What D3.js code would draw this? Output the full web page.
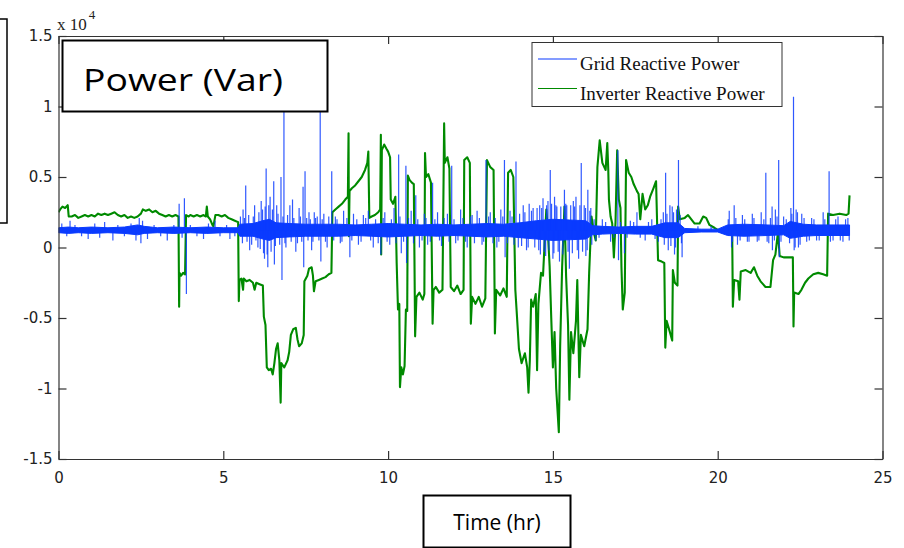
<!DOCTYPE html>
<html>
<head>
<meta charset="utf-8">
<script src="https://cdn.jsdelivr.net/npm/d3@7"></script>
<style>
  body { margin: 0; background: #fff; }
  svg { display: block; }
</style>
</head>
<body>
<svg id="chart" width="904" height="548"></svg>
<script>
// Axis ticks (values in units of 10^4 var)
const xTicks = [0, 5, 10, 15, 20, 25];
const yTicks = [-1.5, -1, -0.5, 0, 0.5, 1, 1.5];
const yTickLabels = ["-1.5", "-1", "-0.5", "0", "0.5", "1", "1.5"];
const seriesNames = ["Grid Reactive Power", "Inverter Reactive Power"];

// Grid reactive power: resting level, noise envelope [hr, low, high], and spikes [hr, value]
const gridBase = 0.12;
const gridBand = [
  [0,0.105,0.14],[0.3,0.10,0.145],[0.6,0.105,0.14],[1.0,0.10,0.145],[1.5,0.105,0.14],[2.0,0.10,0.145],
  [2.4,0.09,0.16],[2.6,0.10,0.15],[3.0,0.105,0.14],[3.5,0.10,0.145],[4.0,0.105,0.14],[4.5,0.10,0.145],
  [5.0,0.105,0.14],[5.45,0.105,0.14],[5.5,0.08,0.165],[5.9,0.08,0.17],[6.2,0.06,0.19],[6.4,0.05,0.20],
  [6.6,0.07,0.175],[7.0,0.075,0.17],[7.5,0.08,0.165],[8.0,0.08,0.165],[8.5,0.08,0.165],[9.0,0.085,0.16],
  [9.5,0.08,0.165],[10.0,0.075,0.17],[10.5,0.08,0.165],[11.0,0.085,0.16],[11.5,0.08,0.165],[12.0,0.085,0.16],
  [12.5,0.08,0.165],[13.0,0.075,0.17],[13.5,0.08,0.165],[14.0,0.07,0.175],[14.5,0.06,0.19],[15.0,0.05,0.20],
  [15.5,0.055,0.195],[16.0,0.06,0.19],[16.2,0.09,0.155],[16.5,0.095,0.15],[17.0,0.10,0.145],[17.5,0.095,0.15],
  [18.0,0.095,0.15],[18.4,0.07,0.175],[18.8,0.07,0.175],[19.0,0.105,0.135],[19.5,0.11,0.13],[20.0,0.11,0.13],
  [20.3,0.085,0.16],[20.8,0.08,0.165],[21.5,0.085,0.16],[22.0,0.09,0.155],[22.2,0.065,0.185],[22.6,0.08,0.165],
  [23.0,0.085,0.16],[23.5,0.085,0.16],[24.0,0.085,0.16]
];
const gridSpikes = [
  [0.1,0.17],[0.25,0.08],[0.35,0.19],[0.5,0.16],[0.7,0.08],[0.9,0.06],[1.1,0.17],[1.25,0.07],[1.4,0.18],
  [1.65,0.05],[1.8,0.16],[2.0,0.08],[2.2,0.17],[2.35,0.05],[2.45,0.21],[2.5,0.03],[2.55,0.19],[2.7,0.06],
  [2.9,0.16],[3.1,0.08],[3.3,0.05],[3.5,0.16],[3.66,0.31],[3.75,0.07],[3.82,0.35],[3.88,-0.33],[4.0,0.16],
  [4.2,0.08],[4.4,0.06],[4.55,0.17],[4.75,0.19],[4.9,0.08],[5.1,0.16],[5.2,0.06],[5.35,0.08],
  [5.52,0.22],[5.58,0.03],[5.6,0.27],[5.64,0.21],[5.68,0.44],[5.72,0.04],[5.77,0.23],[5.8,-0.02],[5.86,0.02],
  [5.91,0.22],[5.95,0.30],[5.99,0.05],[6.05,0.00],[6.08,0.25],[6.12,-0.01],[6.15,0.33],[6.19,0.27],[6.22,-0.04],
  [6.25,-0.08],[6.27,0.29],[6.3,0.56],[6.33,-0.05],[6.35,-0.14],[6.38,0.30],[6.42,0.36],[6.45,-0.03],[6.49,0.27],
  [6.53,0.47],[6.55,-0.12],[6.58,0.01],[6.62,0.30],[6.66,0.24],[6.71,0.02],[6.75,0.50],[6.78,-0.23],[6.81,0.22],
  [6.84,1.00],[6.87,0.03],[6.9,0.00],[6.95,0.23],[7.02,0.30],[7.06,0.04],[7.1,0.34],[7.14,0.21],[7.2,-0.03],
  [7.25,0.03],[7.3,0.28],[7.34,0.22],[7.38,0.04],[7.42,0.43],[7.44,-0.14],[7.48,0.54],[7.53,0.21],[7.57,0.05],
  [7.6,0.25],[7.64,0.20],[7.68,-0.02],[7.72,0.04],[7.76,0.25],[7.8,0.21],[7.85,0.22],[7.9,0.05],[7.94,0.98],
  [7.96,-0.10],[8.0,0.20],[8.05,0.24],[8.1,0.04],[8.15,0.00],[8.2,0.22],[8.29,0.54],[8.35,0.05],[8.4,0.22],
  [8.45,0.20],[8.55,0.03],[8.6,0.04],[8.65,0.26],[8.75,0.21],[8.84,-0.07],[8.9,0.05],[8.95,0.24],[9.05,0.20],
  [9.1,0.02],[9.18,0.04],[9.25,0.23],[9.32,0.21],[9.4,0.26],[9.47,0.05],[9.55,0.00],[9.62,0.20],[9.7,0.03],
  [9.78,-0.05],[9.85,0.21],[9.9,0.25],[9.97,0.04],[10.05,0.02],[10.1,0.20],[10.18,0.28],[10.24,0.03],
  [10.32,0.66],[10.36,0.22],[10.4,-0.04],[10.47,0.04],[10.54,0.58],[10.56,-0.11],[10.62,0.21],[10.7,0.26],
  [10.77,0.03],[10.84,0.37],[10.9,0.20],[10.95,0.00],[11.03,0.05],[11.1,0.24],[11.15,0.21],[11.2,0.02],
  [11.28,0.04],[11.35,0.46],[11.42,0.20],[11.5,0.25],[11.56,0.05],[11.62,0.01],[11.7,0.21],[11.8,0.24],
  [11.85,0.04],[11.93,0.58],[12.0,0.20],[12.05,0.03],[12.12,0.05],[12.2,0.27],[12.27,0.21],[12.35,0.04],
  [12.4,0.00],[12.5,0.22],[12.55,0.23],[12.62,0.03],[12.7,0.26],[12.77,0.21],[12.85,0.02],[12.9,0.04],
  [12.97,0.62],[13.05,0.22],[13.1,0.25],[13.18,0.03],[13.25,0.21],[13.3,0.00],[13.36,0.04],[13.42,0.27],
  [13.48,0.22],[13.53,0.62],[13.55,-0.07],[13.62,0.03],[13.7,0.26],[13.76,0.22],[13.82,0.02],[13.88,0.61],
  [13.95,0.00],[13.99,0.24],[14.05,0.01],[14.1,0.30],[14.15,0.25],[14.2,-0.02],[14.25,0.00],[14.28,0.31],
  [14.35,0.26],[14.4,0.28],[14.45,0.00],[14.52,0.28],[14.57,-0.02],[14.6,0.30],[14.62,-0.05],[14.66,0.28],
  [14.7,0.35],[14.73,-0.03],[14.78,-0.06],[14.81,0.30],[14.85,0.33],[14.88,-0.02],[14.92,0.55],[14.96,0.31],
  [15.0,-0.08],[15.03,-0.04],[15.05,0.36],[15.09,0.30],[15.12,0.29],[15.16,-0.03],[15.2,-0.10],[15.24,0.29],
  [15.3,-0.05],[15.35,0.41],[15.39,0.31],[15.42,0.30],[15.46,-0.03],[15.5,-0.15],[15.54,0.30],[15.59,-0.04],
  [15.62,0.33],[15.66,0.29],[15.7,0.36],[15.74,-0.02],[15.78,-0.08],[15.82,0.30],[15.86,0.60],[15.9,-0.03],
  [15.95,0.30],[15.99,0.28],[16.0,-0.06],[16.04,-0.02],[16.06,0.41],[16.12,0.26],[16.15,0.28],[16.18,0.02],
  [16.25,0.20],[16.3,0.05],[16.4,0.07],[16.5,0.20],[16.6,0.18],[16.75,0.04],[16.85,0.07],[16.97,0.69],
  [16.99,-0.09],[17.05,0.18],[17.17,-0.04],[17.25,0.07],[17.35,0.19],[17.45,0.18],[17.55,0.25],[17.65,0.07],
  [17.8,0.05],[17.9,0.18],[18.0,0.20],[18.1,0.06],[18.2,0.04],[18.28,0.20],[18.35,0.25],[18.38,0.02],
  [18.42,0.53],[18.46,0.24],[18.5,-0.02],[18.55,0.30],[18.58,0.01],[18.62,0.29],[18.66,0.25],[18.69,-0.05],
  [18.72,0.00],[18.75,0.27],[18.81,0.62],[18.86,0.23],[18.9,0.03],[18.92,-0.07],[19.4,0.15],[19.8,0.15],
  [20.32,0.20],[20.35,0.26],[20.42,0.00],[20.45,0.04],[20.5,0.30],[20.55,0.21],[20.6,0.02],[20.68,0.05],
  [20.75,0.23],[20.82,0.20],[20.9,0.04],[20.95,0.04],[21.05,0.24],[21.1,0.21],[21.2,0.04],[21.25,0.05],
  [21.32,0.25],[21.4,0.20],[21.46,0.53],[21.5,0.04],[21.55,0.03],[21.6,0.21],[21.65,0.29],[21.66,-0.02],
  [21.72,0.05],[21.75,0.27],[21.8,0.22],[21.85,0.62],[21.87,-0.07],[21.92,0.04],[22.0,0.22],[22.08,0.20],
  [22.18,0.03],[22.22,0.28],[22.25,0.24],[22.3,1.07],[22.32,-0.02],[22.35,0.00],[22.38,0.27],[22.42,0.25],
  [22.45,0.00],[22.5,0.02],[22.55,0.24],[22.62,0.21],[22.7,0.04],[22.78,0.05],[22.85,0.21],[22.92,0.20],
  [23.0,0.05],[23.08,0.05],[23.2,0.25],[23.25,0.20],[23.38,0.54],[23.42,0.04],[23.5,0.05],[23.58,0.20],
  [23.65,0.22],[23.72,0.05],[23.8,0.04],[23.88,0.20],[23.95,0.21],[23.99,0.05]
];

// Inverter reactive power [hr, value]
const inverterSeries = [
  [0.00,0.25],[0.05,0.27],[0.12,0.29],[0.2,0.28],[0.28,0.30],[0.31,0.22],[0.4,0.22],[0.5,0.23],[0.6,0.21],
  [0.7,0.22],[0.8,0.23],[0.9,0.22],[1.0,0.23],[1.1,0.22],[1.2,0.24],[1.3,0.23],[1.4,0.24],[1.5,0.23],
  [1.6,0.24],[1.7,0.25],[1.8,0.23],[1.9,0.22],[2.0,0.23],[2.1,0.21],[2.2,0.22],[2.3,0.21],[2.4,0.22],
  [2.5,0.24],[2.56,0.27],[2.65,0.26],[2.75,0.27],[2.85,0.25],[2.95,0.26],[3.05,0.24],[3.15,0.23],
  [3.25,0.22],[3.35,0.23],[3.45,0.22],[3.55,0.23],[3.64,0.22],[3.66,-0.42],[3.67,-0.18],[3.72,-0.20],
  [3.78,-0.18],[3.84,-0.19],[3.87,0.23],[3.95,0.22],[4.0,0.23],[4.1,0.22],[4.2,0.23],[4.3,0.22],
  [4.4,0.23],[4.47,0.22],[4.5,0.29],[4.53,0.22],[4.6,0.20],[4.67,0.16],[4.7,0.15],[4.76,0.23],
  [4.85,0.23],[4.95,0.22],[5.05,0.23],[5.15,0.21],[5.25,0.20],[5.35,0.19],[5.45,0.18],[5.47,-0.38],
  [5.49,-0.23],[5.55,-0.22],[5.6,-0.30],[5.62,-0.22],[5.7,-0.24],[5.8,-0.23],[5.9,-0.25],[5.95,-0.30],
  [6.0,-0.25],[6.1,-0.26],[6.2,-0.27],[6.23,-0.49],[6.28,-0.55],[6.32,-0.85],[6.38,-0.87],[6.45,-0.86],
  [6.5,-0.90],[6.55,-0.82],[6.6,-0.72],[6.65,-0.68],[6.7,-0.80],[6.74,-1.10],[6.76,-0.82],[6.85,-0.85],
  [6.95,-0.80],[7.0,-0.74],[7.05,-0.62],[7.12,-0.58],[7.2,-0.57],[7.25,-0.65],[7.3,-0.70],[7.38,-0.68],
  [7.44,-0.62],[7.46,-0.24],[7.55,-0.20],[7.6,-0.15],[7.68,-0.14],[7.72,-0.20],[7.75,-0.31],[7.8,-0.24],
  [7.9,-0.23],[8.0,-0.22],[8.1,-0.21],[8.2,-0.19],[8.28,-0.18],[8.31,0.25],[8.4,0.27],[8.5,0.29],
  [8.6,0.31],[8.7,0.34],[8.78,0.36],[8.8,0.81],[8.81,0.08],[8.83,0.40],[8.9,0.42],[9.0,0.44],[9.1,0.47],
  [9.2,0.50],[9.3,0.55],[9.37,0.60],[9.4,0.68],[9.43,0.21],[9.5,0.22],[9.6,0.23],[9.7,0.25],[9.76,0.27],
  [9.78,0.80],[9.79,-0.05],[9.81,0.69],[9.88,0.73],[9.95,0.70],[10.0,0.68],[10.06,0.64],[10.08,0.34],
  [10.15,0.31],[10.22,0.36],[10.26,-0.11],[10.3,-0.44],[10.34,-0.40],[10.36,-0.99],[10.4,-0.85],
  [10.45,-0.90],[10.5,-0.84],[10.54,-0.44],[10.58,-0.45],[10.6,0.51],[10.65,0.48],[10.72,0.46],
  [10.78,0.45],[10.82,-0.63],[10.86,-0.35],[10.95,-0.32],[11.05,-0.37],[11.1,-0.33],[11.12,0.67],
  [11.15,0.50],[11.22,0.52],[11.3,0.46],[11.35,-0.54],[11.38,-0.30],[11.45,-0.28],[11.55,-0.32],
  [11.65,-0.30],[11.7,0.88],[11.72,0.60],[11.8,0.64],[11.86,0.56],[11.9,-0.28],[12.0,-0.31],[12.1,-0.27],
  [12.2,-0.33],[12.29,-0.30],[12.31,0.62],[12.4,0.64],[12.48,0.60],[12.51,-0.54],[12.55,-0.35],
  [12.65,-0.40],[12.75,-0.35],[12.85,-0.42],[12.95,-0.36],[13.0,0.62],[13.1,0.57],[13.2,0.55],
  [13.24,-0.61],[13.28,-0.30],[13.4,-0.34],[13.5,-0.29],[13.6,-0.35],[13.64,0.53],[13.72,0.55],
  [13.8,0.50],[13.86,-0.30],[13.9,-0.45],[13.97,-0.72],[14.05,-0.82],[14.15,-0.75],[14.22,-0.85],
  [14.26,-1.03],[14.3,-0.80],[14.34,-0.37],[14.4,-0.42],[14.48,-0.33],[14.52,-0.87],[14.56,-0.40],
  [14.64,-0.18],[14.7,-0.20],[14.8,0.27],[14.85,0.10],[14.9,-0.13],[14.95,-0.50],[15.0,-0.85],
  [15.05,-0.60],[15.1,-1.00],[15.18,-1.31],[15.22,-0.70],[15.28,-0.14],[15.35,0.29],[15.4,-0.20],
  [15.46,-0.55],[15.5,-1.08],[15.55,-0.60],[15.62,-0.75],[15.7,-0.52],[15.74,-0.23],[15.8,-0.92],
  [15.85,-0.62],[15.95,-0.70],[16.05,-0.58],[16.1,-0.18],[16.17,0.22],[16.25,0.10],[16.3,0.05],
  [16.35,0.57],[16.42,0.76],[16.5,0.60],[16.6,0.55],[16.65,0.74],[16.68,0.55],[16.7,0.34],[16.75,0.22],
  [16.8,0.17],[16.85,-0.07],[16.9,0.18],[16.95,0.69],[17.0,0.34],[17.05,0.28],[17.08,-0.14],[17.12,-0.44],
  [17.18,-0.32],[17.22,0.62],[17.3,0.53],[17.38,0.50],[17.45,0.45],[17.55,0.40],[17.6,0.38],[17.65,0.20],
  [17.72,0.38],[17.8,0.27],[17.88,0.30],[17.95,0.36],[18.05,0.42],[18.13,0.47],[18.19,-0.09],[18.3,-0.10],
  [18.38,-0.11],[18.41,-0.71],[18.45,-0.52],[18.55,-0.60],[18.62,-0.66],[18.64,-0.16],[18.7,-0.25],
  [18.78,-0.27],[18.8,0.29],[18.85,0.20],[19.0,0.21],[19.1,0.23],[19.2,0.20],[19.3,0.17],[19.45,0.17],
  [19.56,0.22],[19.65,0.21],[19.75,0.16],[19.9,0.14],[20.1,0.11],[20.3,0.10],[20.44,0.09],[20.46,-0.42],
  [20.5,-0.23],[20.62,-0.24],[20.66,-0.37],[20.7,-0.17],[20.85,-0.16],[21.0,-0.18],[21.1,-0.14],
  [21.2,-0.20],[21.3,-0.24],[21.45,-0.28],[21.6,-0.28],[21.68,-0.09],[21.75,-0.05],[21.83,0.11],
  [21.88,-0.06],[22.0,-0.07],[22.15,-0.07],[22.28,-0.07],[22.3,-0.56],[22.32,-0.32],[22.45,-0.33],
  [22.54,-0.30],[22.65,-0.25],[22.75,-0.22],[22.9,-0.19],[23.05,-0.18],[23.2,-0.19],[23.32,-0.20],
  [23.35,0.24],[23.5,0.23],[23.7,0.24],[23.9,0.23],[23.97,0.24],[24.0,0.37]
];

const gridColor = "#0a3bff";
const inverterColor = "#008a00";
const axisColor = "#333";

const svg = d3.select("#chart");
const plot = { left: 58.5, right: 882.5, top: 36, bottom: 459 };

const x = d3.scaleLinear().domain([0, 25]).range([plot.left, plot.right]);
const y = d3.scaleLinear().domain([-1.5, 1.5]).range([plot.bottom, plot.top]);

svg.append("defs").append("clipPath").attr("id", "plot-clip")
  .append("rect")
  .attr("x", plot.left).attr("y", plot.top)
  .attr("width", plot.right - plot.left).attr("height", plot.bottom - plot.top);

const marks = svg.append("g").attr("clip-path", "url(#plot-clip)");

// Inverter trace
marks.append("path")
  .datum(inverterSeries)
  .attr("fill", "none")
  .attr("stroke", inverterColor)
  .attr("stroke-width", 2.1)
  .attr("stroke-linejoin", "round")
  .attr("d", d3.line().x(d => x(d[0])).y(d => y(d[1])));

// Grid trace: noise band plus spikes
marks.append("path")
  .datum(gridBand)
  .attr("fill", gridColor)
  .attr("stroke", gridColor)
  .attr("stroke-width", 1)
  .attr("d", d3.area().x(d => x(d[0])).y0(d => y(d[1])).y1(d => y(d[2])));

marks.append("g")
  .selectAll("line")
  .data(gridSpikes)
  .join("line")
  .attr("x1", d => x(d[0])).attr("x2", d => x(d[0]))
  .attr("y1", y(gridBase)).attr("y2", d => y(d[1]))
  .attr("stroke", gridColor)
  .attr("stroke-opacity", 0.85)
  .attr("stroke-width", 1.2);

// Axes: box with inward ticks on all sides
const tickFont = "'DejaVu Sans', Verdana, sans-serif";
function styleAxis(g) {
  g.select(".domain").attr("stroke", axisColor).attr("stroke-width", 1.2);
  g.selectAll(".tick line").attr("stroke", axisColor).attr("stroke-width", 1.2);
  g.selectAll(".tick text").attr("fill", "#222").style("font-family", tickFont).style("font-size", "15px");
}

svg.append("g")
  .attr("transform", `translate(0,${plot.bottom})`)
  .call(d3.axisBottom(x).tickValues(xTicks).tickFormat(d3.format("d"))
    .tickSizeInner(-8).tickSizeOuter(0).tickPadding(13))
  .call(styleAxis);

svg.append("g")
  .attr("transform", `translate(0,${plot.top})`)
  .call(d3.axisTop(x).tickValues(xTicks).tickFormat("")
    .tickSizeInner(-8).tickSizeOuter(0))
  .call(styleAxis);

svg.append("g")
  .attr("transform", `translate(${plot.left},0)`)
  .call(d3.axisLeft(y).tickValues(yTicks).tickFormat((d, i) => yTickLabels[i])
    .tickSizeInner(-8).tickSizeOuter(0).tickPadding(6))
  .call(styleAxis);

svg.append("g")
  .attr("transform", `translate(${plot.right},0)`)
  .call(d3.axisRight(y).tickValues(yTicks).tickFormat("")
    .tickSizeInner(-8).tickSizeOuter(0))
  .call(styleAxis);

// Exponent label
const expo = svg.append("text")
  .attr("x", 57).attr("y", 30)
  .style("font-family", "'Liberation Serif', 'Times New Roman', serif")
  .style("font-size", "17px").attr("fill", "#222");
expo.append("tspan").text("x 10");
expo.append("tspan").attr("dx", 2).attr("dy", -11).style("font-size", "13px").text("4");

// Legend
const legend = svg.append("g");
legend.append("rect")
  .attr("x", 532).attr("y", 42.5).attr("width", 250).attr("height", 64)
  .attr("fill", "#fff").attr("stroke", axisColor).attr("stroke-width", 1);
const legendRows = [
  { name: seriesNames[0], color: gridColor, ly: 59, ty: 70 },
  { name: seriesNames[1], color: inverterColor, ly: 88.5, ty: 100 }
];
legendRows.forEach(r => {
  legend.append("line")
    .attr("x1", 538).attr("x2", 577).attr("y1", r.ly).attr("y2", r.ly)
    .attr("stroke", r.color).attr("stroke-width", 1.2);
  legend.append("text")
    .attr("x", 580).attr("y", r.ty)
    .style("font-family", "'Liberation Serif', 'Times New Roman', serif")
    .style("font-size", "19px").attr("fill", "#111")
    .text(r.name);
});

// Partial frame at the left edge
svg.append("rect")
  .attr("x", -20).attr("y", 19).attr("width", 27).attr("height", 204)
  .attr("fill", "none").attr("stroke", "#000").attr("stroke-width", 1.5);

// Quantity box
svg.append("rect")
  .attr("x", 62.5).attr("y", 40.5).attr("width", 265).attr("height", 71)
  .attr("fill", "#fff").attr("stroke", "#000").attr("stroke-width", 2);
svg.append("text")
  .attr("x", 83).attr("y", 91)
  .attr("textLength", 200).attr("lengthAdjust", "spacingAndGlyphs")
  .style("font-family", "'Open Sans', 'Noto Sans', sans-serif")
  .style("font-size", "31px").attr("fill", "#000")
  .text("Power (Var)");

// Time box
svg.append("rect")
  .attr("x", 423.5).attr("y", 495.5).attr("width", 147).attr("height", 52)
  .attr("fill", "#fff").attr("stroke", "#000").attr("stroke-width", 2);
svg.append("text")
  .attr("x", 497).attr("y", 530).attr("text-anchor", "middle")
  .style("font-family", "'Open Sans', 'Noto Sans', sans-serif")
  .style("font-size", "21px").attr("fill", "#000")
  .text("Time (hr)");
</script>
</body>
</html>
